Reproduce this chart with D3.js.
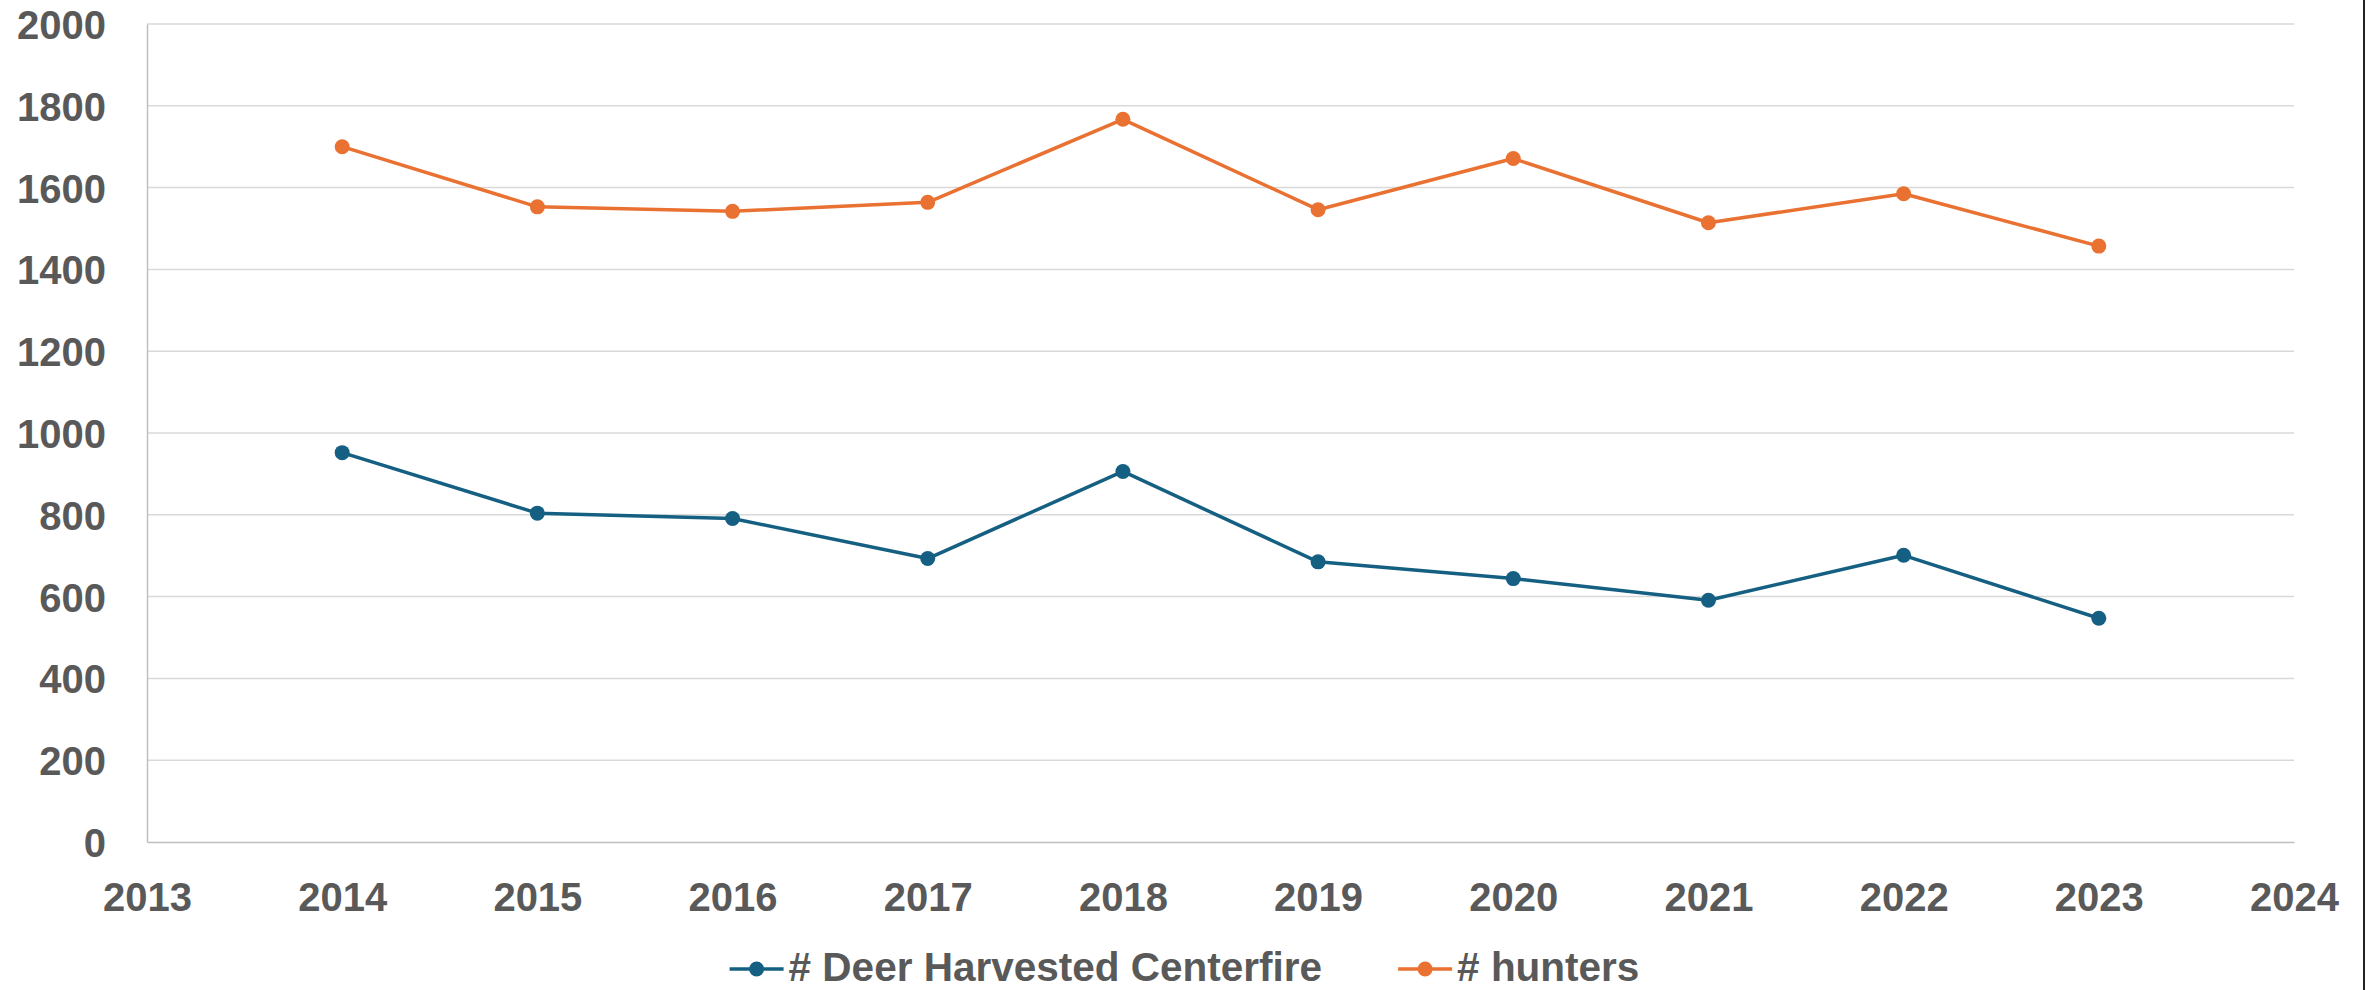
<!DOCTYPE html>
<html>
<head>
<meta charset="utf-8">
<script src="https://cdn.jsdelivr.net/npm/d3@7"></script>
<style>
  html, body { margin: 0; padding: 0; background: #fff; }
  svg { display: block; font-family: "Liberation Sans", Arial, sans-serif; }
</style>
</head>
<body>
<svg id="chart" width="2369" height="990"></svg>
<script>
// data
var years = [2014, 2015, 2016, 2017, 2018, 2019, 2020, 2021, 2022, 2023];
var deerHarvested = [952, 804, 791, 693, 906, 685, 644, 591, 701, 547];
var hunters = [1700, 1553, 1542, 1564, 1767, 1546, 1671, 1514, 1585, 1457];
var yTicks = [0, 200, 400, 600, 800, 1000, 1200, 1400, 1600, 1800, 2000];
var xTicks = [2013, 2014, 2015, 2016, 2017, 2018, 2019, 2020, 2021, 2022, 2023, 2024];
var seriesNames = ["# Deer Harvested Centerfire", "# hunters"];

var series = [
  {name: seriesNames[0], values: deerHarvested, color: "#156082"},
  {name: seriesNames[1], values: hunters, color: "#E97132"}
];

var svg = d3.select("svg#chart"),
  margin = {top: 24, right: 75, bottom: 148, left: 147},
  width = 2369 - margin.left - margin.right,
  height = 990 - margin.top - margin.bottom;

var textColor = "#595959";

var x = d3.scaleLinear().domain([2013, 2024]).range([0, width]),
  y = d3.scaleLinear().domain([0, 2000]).range([height, 0]);

var g = svg.append("g")
  .attr("transform", "translate(" + margin.left + "," + margin.top + ")");

// gridlines
g.append("g")
  .selectAll("line")
  .data(yTicks.filter(function(d) { return d > 0; }))
  .enter().append("line")
  .attr("x1", 0)
  .attr("x2", width)
  .attr("y1", function(d) { return y(d); })
  .attr("y2", function(d) { return y(d); })
  .attr("stroke", "#D9D9D9")
  .attr("stroke-width", 1.5);

// y axis
var yAxis = g.append("g")
  .call(d3.axisLeft(y).tickValues(yTicks).tickSize(0).tickPadding(41).tickFormat(d3.format("d")));
yAxis.select(".domain").attr("stroke", "#BFBFBF").attr("stroke-width", 1.5);
yAxis.selectAll("text")
  .attr("fill", textColor)
  .style("font-size", "40px")
  .style("font-weight", "bold")
  .attr("dy", "0.36em");

// x axis
var xAxis = g.append("g")
  .attr("transform", "translate(0," + height + ")")
  .call(d3.axisBottom(x).tickValues(xTicks).tickSize(0).tickPadding(41).tickFormat(d3.format("d")));
xAxis.select(".domain").attr("stroke", "#BFBFBF").attr("stroke-width", 1.5);
xAxis.selectAll("text")
  .attr("fill", textColor)
  .style("font-size", "40px")
  .style("font-weight", "bold")
  .attr("dy", "0.71em");

var line = d3.line()
  .x(function(d, i) { return x(years[i]); })
  .y(function(d) { return y(d); });

var layer = g.selectAll(".series")
  .data(series)
  .enter().append("g")
  .attr("class", "series");

layer.append("path")
  .attr("fill", "none")
  .attr("stroke", function(d) { return d.color; })
  .attr("stroke-width", 3.5)
  .attr("stroke-linejoin", "round")
  .attr("d", function(d) { return line(d.values); });

layer.selectAll("circle")
  .data(function(d) { return d.values.map(function(v, i) { return {v: v, i: i, color: d.color}; }); })
  .enter().append("circle")
  .attr("cx", function(d) { return x(years[d.i]); })
  .attr("cy", function(d) { return y(d.v); })
  .attr("r", 7.5)
  .attr("fill", function(d) { return d.color; });

// legend
var legend = svg.append("g").attr("transform", "translate(0,969)");
var items = legend.selectAll(".item")
  .data(series)
  .enter().append("g")
  .attr("class", "item");

items.append("line")
  .attr("x1", 0).attr("x2", 54)
  .attr("stroke", function(d) { return d.color; })
  .attr("stroke-width", 3.5);
items.append("circle")
  .attr("cx", 27).attr("r", 7.5)
  .attr("fill", function(d) { return d.color; });
items.append("text")
  .attr("x", 59)
  .attr("y", 12)
  .attr("fill", textColor)
  .style("font-size", "40.5px")
  .style("font-weight", "bold")
  .text(function(d) { return d.name; });

var offs = [], pos = 0;
items.each(function(d, i) {
  offs.push(pos);
  pos += 59 + this.querySelector("text").getComputedTextLength() + 76;
});
var total = pos - 76;
var start = (2369 - total) / 2;
items.attr("transform", function(d, i) { return "translate(" + (start + offs[i]) + ",0)"; });

// right border of chart frame
svg.append("line")
  .attr("x1", 2364).attr("x2", 2364)
  .attr("y1", 0).attr("y2", 990)
  .attr("stroke", "#222")
  .attr("stroke-width", 2);
</script>
</body>
</html>
